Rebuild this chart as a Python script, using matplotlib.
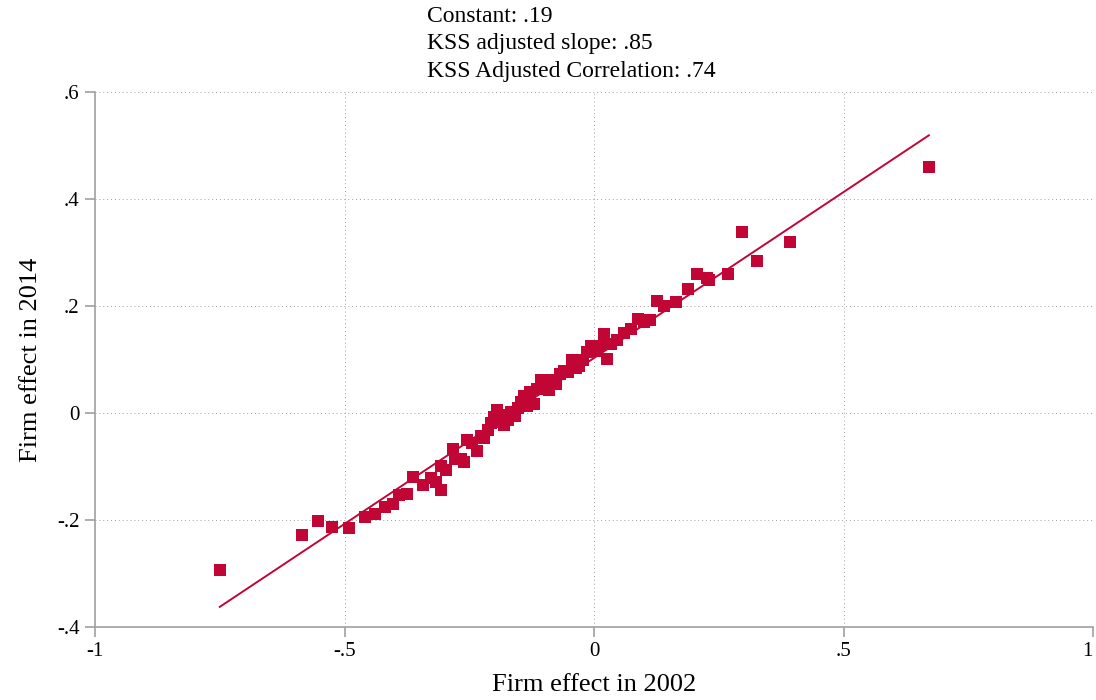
import numpy as np
import matplotlib
matplotlib.use("Agg")
import matplotlib.pyplot as plt

# === Data === #
firm_2002 = [-0.750, -0.585, -0.553, -0.525, -0.491, -0.459, -0.439, -0.419, -0.403, -0.391,
             -0.375, -0.363, -0.343, -0.327, -0.317, -0.307, -0.307, -0.297, -0.283, -0.279,
             -0.267, -0.261, -0.255, -0.245, -0.235, -0.227, -0.220, -0.212, -0.206, -0.200,
             -0.194, -0.194, -0.186, -0.180, -0.172, -0.166, -0.158, -0.152, -0.146, -0.140,
             -0.134, -0.128, -0.120, -0.114, -0.106, -0.098, -0.090, -0.084, -0.076, -0.068,
             -0.060, -0.052, -0.044, -0.036, -0.030, -0.022, -0.014, -0.006, 0.002, 0.010,
             0.020, 0.026, 0.034, 0.046, 0.060, 0.074, 0.088, 0.100, 0.112, 0.126,
             0.140, 0.164, 0.188, 0.206, 0.226, 0.230, 0.269, 0.297, 0.327, 0.393,
             0.671]
firm_2014 = [-0.293, -0.228, -0.201, -0.213, -0.215, -0.194, -0.188, -0.175, -0.170, -0.153,
             -0.151, -0.119, -0.134, -0.121, -0.129, -0.144, -0.099, -0.106, -0.067, -0.086,
             -0.086, -0.091, -0.050, -0.056, -0.071, -0.043, -0.047, -0.032, -0.019, -0.007,
             0.006, -0.017, -0.004, -0.022, -0.013, 0.002, -0.006, 0.009, 0.021, 0.032,
             0.013, 0.039, 0.017, 0.045, 0.062, 0.047, 0.043, 0.062, 0.054, 0.073,
             0.078, 0.076, 0.099, 0.084, 0.088, 0.099, 0.114, 0.125, 0.116, 0.125,
             0.147, 0.101, 0.129, 0.136, 0.149, 0.157, 0.175, 0.170, 0.174, 0.209,
             0.200, 0.207, 0.231, 0.259, 0.252, 0.248, 0.259, 0.338, 0.284, 0.319,
             0.459]

# fitted line as drawn
fit_const = 0.103
fit_slope = 0.62

notes = ["Constant: .19", "KSS adjusted slope: .85", "KSS Adjusted Correlation: .74"]

x_ticks = [-1, -0.5, 0, 0.5, 1]
x_labels = ["-1", "-.5", "0", ".5", "1"]
y_ticks = [-0.4, -0.2, 0, 0.2, 0.4, 0.6]
y_labels = ["-.4", "-.2", "0", ".2", ".4", ".6"]

RED = "#c10534"
GRAY = "#a0a0a0"

plt.rcParams['font.family'] = ['Liberation Serif', 'DejaVu Serif']

fig = plt.figure(figsize=(10.96, 7), dpi=100)
ax = fig.add_axes([0.0867, 0.104, 0.9106, 0.7646])

ax.scatter(firm_2002, firm_2014, marker='s', s=85, color=RED, linewidths=0, zorder=3)

xs = np.array([min(firm_2002), max(firm_2002)])
ax.plot(xs, fit_const + fit_slope * xs, color=RED, linewidth=1.4, zorder=2)

ax.set_xlim(-1, 1)
ax.set_ylim(-0.4, 0.6)
ax.set_xticks(x_ticks)
ax.set_xticklabels(x_labels)
ax.set_yticks(y_ticks)
ax.set_yticklabels(y_labels)

# gridlines (dotted), skip the axis edges
for yv in y_ticks[1:]:
    ax.axhline(yv, color=GRAY, linestyle=(0, (1, 3)), linewidth=0.7, zorder=1)
for xv in x_ticks[1:-1]:
    ax.axvline(xv, color=GRAY, linestyle=(0, (1, 3)), linewidth=0.7, zorder=1)

for side in ['top', 'right']:
    ax.spines[side].set_visible(False)
for side in ['left', 'bottom']:
    ax.spines[side].set_color(GRAY)
    ax.spines[side].set_linewidth(1.2)

ax.tick_params(axis='both', direction='out', length=7, width=1.2, color=GRAY,
               labelsize=15, pad=4)
# keep the last x label inside the figure
ax.get_xticklabels()[-1].set_horizontalalignment('right')
ax.get_xticklabels()[-1].set_x(1.0)

ax.set_xlabel("Firm effect in 2002", fontsize=19, labelpad=9)
ax.set_ylabel("Firm effect in 2014", fontsize=19, labelpad=11)

for i, t in enumerate(notes):
    fig.text(427 / 1096, 1 - (17 + 27 * i) / 700, t, fontsize=17, ha='left', va='center')

fig.savefig("out.png", dpi=100)
